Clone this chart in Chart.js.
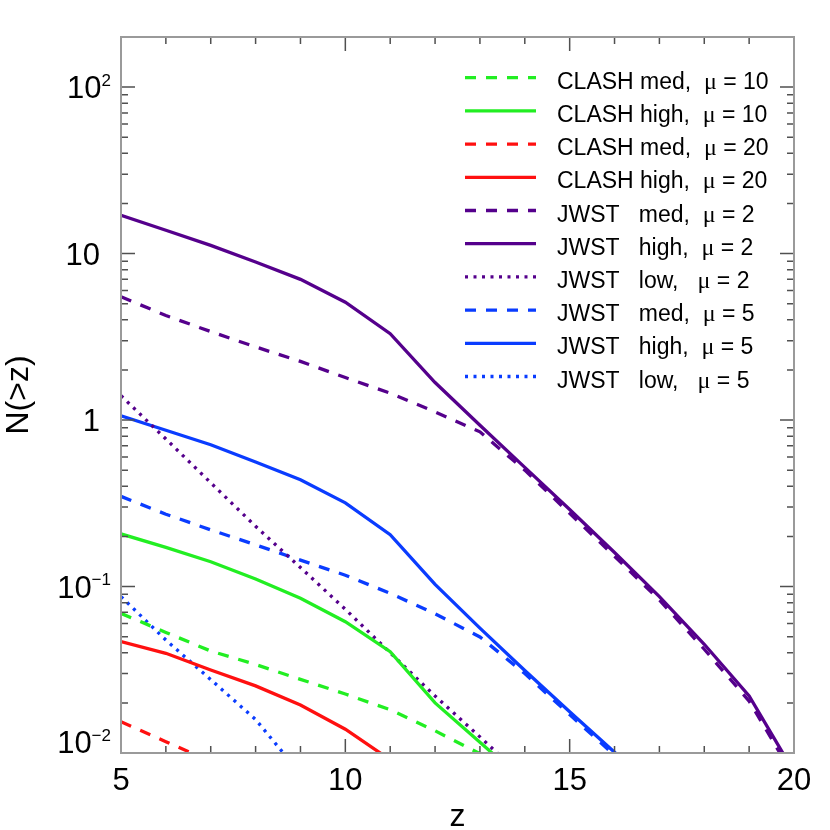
<!DOCTYPE html>
<html>
<head>
<meta charset="utf-8">
<title>N(&gt;z)</title>
<script src="https://cdn.jsdelivr.net/npm/chart.js@4.4.0/dist/chart.umd.min.js"></script>
<style>
    html, body { margin: 0; padding: 0; background: #ffffff; }
    canvas { display: block; }
</style>
</head>
<body>
<canvas id="nzChart" width="830" height="830"></canvas>
<script>
// Redshift grid of the curves
const redshifts = [5, 6, 7, 8, 9, 10, 11, 12, 13, 14, 15, 16, 17, 18, 19, 20];

// Cumulative number counts N(>z) (null = below the plot)
const clashMedMu10  = [0.069, 0.053, 0.041, 0.034, 0.0277, 0.0226, 0.0182, 0.0136, 0.0099, 0.006, null, null, null, null, null, null];
const clashHighMu10 = [0.207, 0.172, 0.141, 0.111, 0.085, 0.0615, 0.0406, 0.020, 0.0116, 0.0067, null, null, null, null, null, null];
const clashMedMu20  = [0.0154, 0.0117, 0.0089, null, null, null, null, null, null, null, null, null, null, null, null, null];
const clashHighMu20 = [0.0467, 0.0397, 0.0315, 0.0253, 0.0194, 0.0139, 0.0091, null, null, null, null, null, null, null, null, null];
const jwstMedMu2    = [5.5, 4.25, 3.4, 2.75, 2.25, 1.8, 1.45, 1.12, 0.85, 0.50, 0.275, 0.152, 0.083, 0.042, 0.0205, 0.0072];
const jwstHighMu2   = [17, 13.8, 11.2, 8.9, 7.0, 5.1, 3.3, 1.68, 0.93, 0.52, 0.29, 0.16, 0.087, 0.045, 0.022, 0.0077];
const jwstLowMu2    = [1.4, 0.77, 0.42, 0.23, 0.13, 0.073, 0.040, 0.022, 0.0125, 0.0070, null, null, null, null, null, null];
const jwstMedMu5    = [0.348, 0.272, 0.219, 0.178, 0.144, 0.117, 0.091, 0.0686, 0.0498, 0.030, 0.0170, 0.0097, 0.0055, null, null, null];
const jwstHighMu5   = [1.06, 0.869, 0.711, 0.56, 0.438, 0.318, 0.205, 0.103, 0.0563, 0.0313, 0.0177, 0.0101, 0.0056, null, null, null];
const jwstLowMu5    = [0.087, 0.0477, 0.0276, 0.0159, 0.0075, null, null, null, null, null, null, null, null, null, null, null];

// Legend texts, in legend order
const seriesLabels = [
    'CLASH med,  μ = 10',
    'CLASH high,  μ = 10',
    'CLASH med,  μ = 20',
    'CLASH high,  μ = 20',
    'JWST   med,  μ = 2',
    'JWST   high,  μ = 2',
    'JWST   low,   μ = 2',
    'JWST   med,  μ = 5',
    'JWST   high,  μ = 5',
    'JWST   low,   μ = 5'
];
const seriesValues = [
    clashMedMu10, clashHighMu10, clashMedMu20, clashHighMu20,
    jwstMedMu2, jwstHighMu2, jwstLowMu2,
    jwstMedMu5, jwstHighMu5, jwstLowMu5
];

// Axis ticks
const xMajorTicks = [5, 10, 15, 20];
const xTickLabels = ['5', '10', '15', '20'];
const xMinorTicks = [6, 7, 8, 9, 11, 12, 13, 14, 16, 17, 18, 19];
const yMajorTicks = [0.01, 0.1, 1, 10, 100];
const yTickBase   = ['10', '10', '1', '10', '10'];
const yTickPower  = ['\u22122', '\u22121', '', '', '2'];
const yMinorTicks = [
    0.02, 0.03, 0.04, 0.05, 0.06, 0.07, 0.08, 0.09,
    0.2, 0.3, 0.4, 0.5, 0.6, 0.7, 0.8, 0.9,
    2, 3, 4, 5, 6, 7, 8, 9,
    20, 30, 40, 50, 60, 70, 80, 90
];

// Styling
const FONT = "'Liberation Sans', Arial, Helvetica, sans-serif";
const MU_FONT = "'Liberation Serif', 'DejaVu Serif', serif";
const colors = {
    green: '#22ee22',
    red: '#ff1010',
    purple: '#55008c',
    blue: '#0a3cff'
};
const dashes = {
    solid: [],
    dash: [11, 10],
    dot: [3, 5.5]
};
const seriesColors = [
    colors.green, colors.green, colors.red, colors.red,
    colors.purple, colors.purple, colors.purple,
    colors.blue, colors.blue, colors.blue
];
const seriesDashes = [
    dashes.dash, dashes.solid, dashes.dash, dashes.solid,
    dashes.dash, dashes.solid, dashes.dot,
    dashes.dash, dashes.solid, dashes.dot
];
const LINE_WIDTH = 3.3;

/**
 * Frame, inward ticks on all four sides, tick labels, titles and legend
 */
const figureDecorations = {
    id: 'figureDecorations',
    afterDatasetsDraw(chart) {
        const { ctx, chartArea: area, scales } = chart;
        const xs = scales.x;
        const ys = scales.y;

        ctx.save();

        // ticks
        ctx.strokeStyle = '#505050';
        ctx.lineWidth = 1.5;
        ctx.beginPath();
        const xTick = (v, len) => {
            const px = xs.getPixelForValue(v);
            ctx.moveTo(px, area.bottom); ctx.lineTo(px, area.bottom - len);
            ctx.moveTo(px, area.top); ctx.lineTo(px, area.top + len);
        };
        const yTick = (v, len) => {
            const py = ys.getPixelForValue(v);
            ctx.moveTo(area.left, py); ctx.lineTo(area.left + len, py);
            ctx.moveTo(area.right, py); ctx.lineTo(area.right - len, py);
        };
        xMajorTicks.forEach(v => xTick(v, 14));
        xMinorTicks.forEach(v => xTick(v, 7));
        yMajorTicks.forEach(v => yTick(v, 14));
        yMinorTicks.forEach(v => yTick(v, 7));
        ctx.stroke();

        // frame
        ctx.strokeStyle = '#9a9a9a';
        ctx.lineWidth = 2;
        ctx.strokeRect(area.left, area.top, area.right - area.left, area.bottom - area.top);

        ctx.fillStyle = '#000000';

        // x tick labels
        ctx.font = '31px ' + FONT;
        ctx.textAlign = 'center';
        ctx.textBaseline = 'alphabetic';
        xMajorTicks.forEach((v, i) => {
            ctx.fillText(xTickLabels[i], xs.getPixelForValue(v), area.bottom + 37);
        });

        // y tick labels (10 with a raised power)
        yMajorTicks.forEach((v, i) => {
            const py = ys.getPixelForValue(v);
            const base = Math.min(py + 11, area.bottom);
            if (yTickPower[i]) {
                ctx.font = '17px ' + FONT;
                ctx.textAlign = 'left';
                const w = ctx.measureText(yTickPower[i]).width;
                const sx = 111 - w;
                ctx.fillText(yTickPower[i], sx, base - 12.5);
                ctx.font = '31px ' + FONT;
                ctx.textAlign = 'right';
                ctx.fillText(yTickBase[i], sx, base);
            } else {
                ctx.font = '31px ' + FONT;
                ctx.textAlign = 'right';
                ctx.fillText(yTickBase[i], 100, base);
            }
        });

        // axis titles
        ctx.font = '32px ' + FONT;
        ctx.textAlign = 'center';
        ctx.fillText('z', (area.left + area.right) / 2, 826);
        ctx.save();
        ctx.translate(28, (area.top + area.bottom) / 2);
        ctx.rotate(-Math.PI / 2);
        ctx.fillText('N(>z)', 0, 0);
        ctx.restore();

        // legend
        chart.data.datasets.forEach((ds, i) => {
            const ly = 77.7 + 33.2 * i;
            ctx.save();
            ctx.strokeStyle = ds.borderColor;
            ctx.lineWidth = LINE_WIDTH;
            ctx.setLineDash(ds.borderDash);
            ctx.beginPath();
            ctx.moveTo(465, ly);
            ctx.lineTo(536, ly);
            ctx.stroke();
            ctx.restore();

            const parts = ds.label.split('μ');
            let tx = 557;
            const ty = ly + 11;
            ctx.textAlign = 'left';
            ctx.font = '23px ' + FONT;
            ctx.fillText(parts[0], tx, ty);
            tx += ctx.measureText(parts[0]).width;
            ctx.font = '24px ' + MU_FONT;
            ctx.fillText('μ', tx, ty);
            tx += ctx.measureText('μ').width;
            ctx.font = '23px ' + FONT;
            ctx.fillText(parts[1], tx, ty);
        });

        ctx.restore();
    }
};

/**
 * Build the datasets from the value arrays
 */
function buildDatasets() {
    return seriesLabels.map((label, i) => ({
        label: label,
        data: redshifts.map((z, k) => ({ x: z, y: seriesValues[i][k] })),
        borderColor: seriesColors[i],
        borderWidth: LINE_WIDTH,
        borderDash: seriesDashes[i],
        borderCapStyle: 'butt',
        pointRadius: 0,
        tension: 0,
        fill: false,
        spanGaps: false,
        clip: 0
    }));
}

function initChart() {
    const ctx = document.getElementById('nzChart');
    return new Chart(ctx, {
        type: 'line',
        data: { datasets: buildDatasets() },
        options: {
            responsive: false,
            animation: false,
            layout: {
                padding: { top: 37, right: 36, left: 0, bottom: 0 }
            },
            plugins: {
                legend: { display: false },
                tooltip: { enabled: false }
            },
            scales: {
                x: {
                    type: 'linear',
                    min: 5,
                    max: 20,
                    grid: { display: false },
                    border: { display: false },
                    ticks: { display: false },
                    afterFit: scale => { scale.height = 77; }
                },
                y: {
                    type: 'logarithmic',
                    min: 0.01,
                    max: 200,
                    grid: { display: false },
                    border: { display: false },
                    ticks: { display: false },
                    afterFit: scale => { scale.width = 121; }
                }
            }
        },
        plugins: [figureDecorations]
    });
}

document.addEventListener('DOMContentLoaded', initChart);
</script>
</body>
</html>
